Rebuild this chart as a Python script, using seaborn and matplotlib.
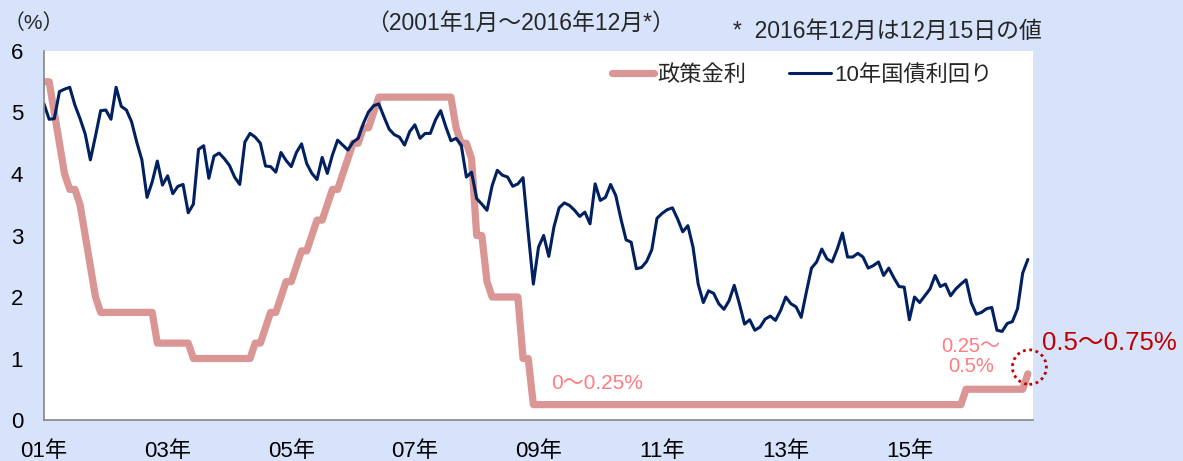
import numpy as np
import pandas as pd
import matplotlib
matplotlib.use("Agg")
import matplotlib.pyplot as plt
from matplotlib.patches import Ellipse
import seaborn as sns

# month-end values, Jan 2001 .. Dec 2016, one row per year
policy_rate = [
    5.5, 5.5, 5.0, 4.5, 4.0, 3.75, 3.75, 3.5, 3.0, 2.5, 2.0, 1.75,
    1.75, 1.75, 1.75, 1.75, 1.75, 1.75, 1.75, 1.75, 1.75, 1.75, 1.25, 1.25,
    1.25, 1.25, 1.25, 1.25, 1.25, 1.0, 1.0, 1.0, 1.0, 1.0, 1.0, 1.0,
    1.0, 1.0, 1.0, 1.0, 1.0, 1.25, 1.25, 1.5, 1.75, 1.75, 2.0, 2.25,
    2.25, 2.5, 2.75, 2.75, 3.0, 3.25, 3.25, 3.5, 3.75, 3.75, 4.0, 4.25,
    4.5, 4.5, 4.75, 4.75, 5.0, 5.25, 5.25, 5.25, 5.25, 5.25, 5.25, 5.25,
    5.25, 5.25, 5.25, 5.25, 5.25, 5.25, 5.25, 5.25, 4.75, 4.5, 4.5, 4.25,
    3.0, 3.0, 2.25, 2.0, 2.0, 2.0, 2.0, 2.0, 2.0, 1.0, 1.0, 0.25,
    0.25, 0.25, 0.25, 0.25, 0.25, 0.25, 0.25, 0.25, 0.25, 0.25, 0.25, 0.25,
    0.25, 0.25, 0.25, 0.25, 0.25, 0.25, 0.25, 0.25, 0.25, 0.25, 0.25, 0.25,
    0.25, 0.25, 0.25, 0.25, 0.25, 0.25, 0.25, 0.25, 0.25, 0.25, 0.25, 0.25,
    0.25, 0.25, 0.25, 0.25, 0.25, 0.25, 0.25, 0.25, 0.25, 0.25, 0.25, 0.25,
    0.25, 0.25, 0.25, 0.25, 0.25, 0.25, 0.25, 0.25, 0.25, 0.25, 0.25, 0.25,
    0.25, 0.25, 0.25, 0.25, 0.25, 0.25, 0.25, 0.25, 0.25, 0.25, 0.25, 0.25,
    0.25, 0.25, 0.25, 0.25, 0.25, 0.25, 0.25, 0.25, 0.25, 0.25, 0.25, 0.5,
    0.5, 0.5, 0.5, 0.5, 0.5, 0.5, 0.5, 0.5, 0.5, 0.5, 0.5, 0.75,
]

bond_yield = [
    5.14, 4.89, 4.90, 5.34, 5.38, 5.41, 5.12, 4.90, 4.65, 4.23, 4.62, 5.03,
    5.04, 4.89, 5.41, 5.10, 5.04, 4.85, 4.52, 4.23, 3.62, 3.87, 4.21, 3.82,
    3.97, 3.68, 3.80, 3.83, 3.37, 3.51, 4.40, 4.46, 3.93, 4.29, 4.34, 4.25,
    4.14, 3.95, 3.83, 4.52, 4.66, 4.60, 4.50, 4.13, 4.12, 4.03, 4.35, 4.22,
    4.12, 4.35, 4.49, 4.17, 4.01, 3.91, 4.27, 4.01, 4.31, 4.55, 4.47, 4.39,
    4.52, 4.58, 4.82, 5.01, 5.11, 5.14, 4.93, 4.73, 4.64, 4.60, 4.47, 4.69,
    4.80, 4.58, 4.66, 4.66, 4.88, 5.03, 4.77, 4.54, 4.58, 4.47, 3.95, 4.03,
    3.60, 3.51, 3.41, 3.81, 4.06, 3.98, 3.95, 3.80, 3.84, 3.94, 3.05, 2.21,
    2.81, 3.00, 2.66, 3.14, 3.45, 3.53, 3.49, 3.41, 3.31, 3.38, 3.19, 3.84,
    3.57, 3.62, 3.83, 3.65, 3.27, 2.93, 2.89, 2.46, 2.48, 2.58, 2.77, 3.28,
    3.36, 3.42, 3.45, 3.27, 3.06, 3.16, 2.81, 2.21, 1.91, 2.10, 2.06, 1.89,
    1.80, 1.94, 2.19, 1.89, 1.56, 1.63, 1.46, 1.51, 1.64, 1.69, 1.62, 1.78,
    2.00, 1.89, 1.84, 1.67, 2.08, 2.47, 2.57, 2.78, 2.62, 2.57, 2.78, 3.04,
    2.65, 2.65, 2.71, 2.65, 2.47, 2.51, 2.57, 2.35, 2.47, 2.31, 2.17, 2.16,
    1.63, 2.00, 1.91, 2.02, 2.13, 2.35, 2.17, 2.21, 2.02, 2.13, 2.21, 2.28,
    1.91, 1.72, 1.75, 1.81, 1.83, 1.46, 1.44, 1.57, 1.60, 1.81, 2.39, 2.61,
]

tick_labels = ["01年", "03年", "05年", "07年", "09年", "11年", "13年", "15年", ""]
series_names = ["政策金利", "10年国債利回り"]

df = pd.DataFrame({
    "month": np.arange(len(policy_rate)),
    "policy": policy_rate,
    "yield": bond_yield,
})

sns.set_theme(style="white")
plt.rcParams["font.family"] = ["Liberation Sans", "Noto Sans CJK JP", "DejaVu Sans"]

W, H = 1183, 461
fig = plt.figure(figsize=(W / 100, H / 100), dpi=100)
fig.patch.set_facecolor("#D6E3FB")
ax = fig.add_axes([44 / W, 1 - 420 / H, (1033 - 44) / W, (420 - 51) / H])
ax.set_facecolor("white")

sns.lineplot(data=df, x="month", y="policy", ax=ax, color="#D99694", lw=5.2,
             label=series_names[0], solid_joinstyle="round", solid_capstyle="round")
sns.lineplot(data=df, x="month", y="yield", ax=ax, color="#002060", lw=2.2,
             label=series_names[1], solid_joinstyle="round")

ax.set_xlim(0, 192)
ax.set_ylim(0, 6)
ax.set_xticks(np.arange(0, 193, 24))
ax.set_xticklabels(tick_labels)
ax.set_yticks(range(0, 7))
ax.set_xlabel("")
ax.set_ylabel("")

for side in ["top", "right"]:
    ax.spines[side].set_visible(False)
for side in ["left", "bottom"]:
    ax.spines[side].set_color("#868686")
    ax.spines[side].set_linewidth(1.2)
ax.tick_params(axis="both", direction="out", length=5, width=1, color="#868686",
               labelsize=16, labelcolor="black")
ax.tick_params(axis="y", pad=10)
ax.tick_params(axis="x", pad=10)

leg = ax.legend(loc="center left", bbox_to_anchor=(612 / W, 1 - 75 / H),
                bbox_transform=fig.transFigure, frameon=False, ncol=2,
                fontsize=16, handlelength=1.9, handletextpad=0.15,
                columnspacing=1.9, borderaxespad=0, borderpad=0)

# annotations
ax.text(98.5, 0.6, "0～0.25%", color="#FF7C80", fontsize=15, ha="left", va="center")
ax.text(180, 1.03, "0.25～\n0.5%", color="#FF7C80", fontsize=14.5, ha="center",
        va="center", linespacing=1.1)
ax.add_patch(Ellipse((191.3, 0.86), 6.6, 0.56, fill=False, edgecolor="#C00000",
                     linestyle=(0, (1, 1.3)), lw=2, clip_on=False, zorder=5))
fig.text(1042 / W, 1 - 343 / H, "0.5～0.75%", color="#C00000", fontsize=18.5,
         ha="left", va="center")

fig.text(34 / W, 1 - 23 / H, "（%）", fontsize=15, ha="center", va="center")
fig.text(520 / W, 1 - 23 / H, "（2001年1月～2016年12月*）", fontsize=16.5,
         ha="center", va="center")
fig.text(733 / W, 1 - 31 / H, "*  2016年12月は12月15日の値", fontsize=16.5,
         ha="left", va="center")

fig.savefig("out.png", dpi=100, facecolor=fig.get_facecolor())
